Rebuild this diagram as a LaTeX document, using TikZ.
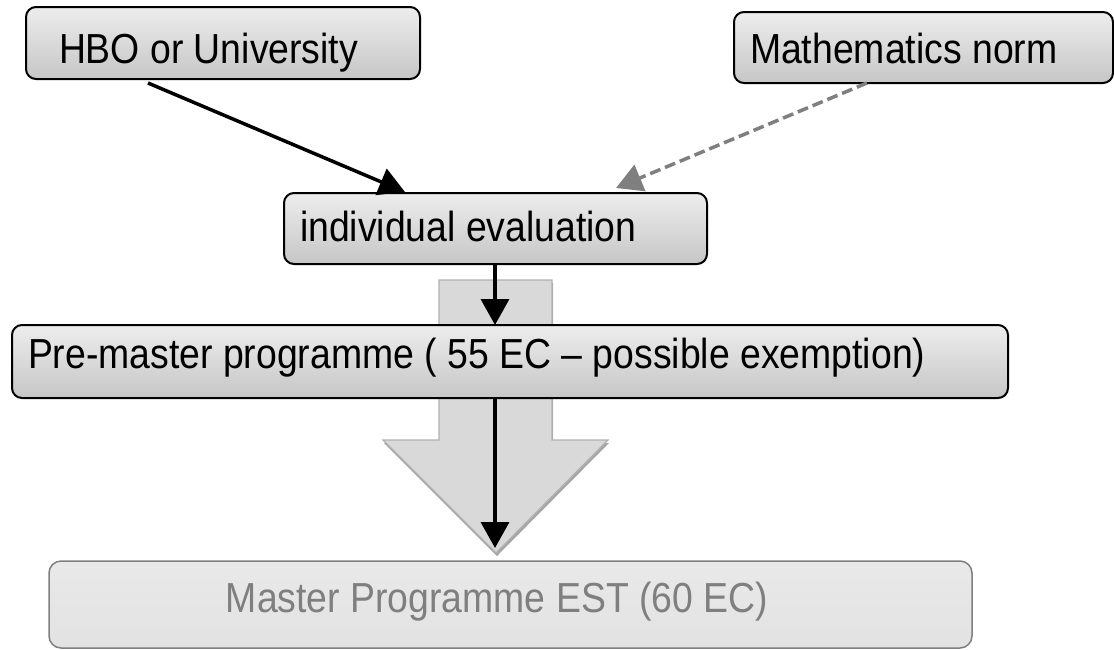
\documentclass[tikz,border=0pt]{standalone}
\usepackage{fontspec}
\setmainfont{Liberation Sans}[FakeStretch=0.89, WordSpace=1.0]
\usetikzlibrary{arrows.meta,calc}
\definecolor{boxtop}{HTML}{EDEDED}
\definecolor{boxbot}{HTML}{C6C6C6}
\definecolor{mtop}{HTML}{E9E9E9}
\definecolor{mmid}{HTML}{CBCBCB}
\definecolor{mbot}{HTML}{E2E2E2}
\definecolor{arrowfill}{HTML}{D9D9D9}
\definecolor{arrowline}{HTML}{B0B0B0}
\definecolor{arrowshadow}{HTML}{A6A6A6}
\definecolor{midgray}{HTML}{7F7F7F}
\tikzset{
  box/.style={draw=black, line width=2pt, rounded corners=10pt,
    top color=boxtop, bottom color=boxbot, inner ysep=0pt, outer sep=0pt,
    text depth=0pt, anchor=north west,
    font=\fontsize{42}{48}\selectfont},
  masterbox/.style={draw=midgray, line width=1.5pt, rounded corners=12pt,
    top color=mtop, middle color=mmid, bottom color=mbot,
    inner sep=0pt, outer sep=0pt, anchor=north west},
  mastertext/.style={text=midgray, inner sep=0pt, text height=30pt, text depth=0pt,
    font=\fontsize{42}{48}\selectfont},
  conn/.style={line width=3.5pt, -{Triangle[length=26pt,width=28pt]}},
  dashconn/.style={conn, draw=midgray, dash pattern=on 11pt off 5pt},
  blockarrow/.style={fill=arrowfill, draw=arrowline, line width=1.2pt, line join=miter},
  blockshadow/.style={fill=arrowshadow, draw=none}
}
\begin{document}
\begin{tikzpicture}[x=1pt,y=1pt]
\useasboundingbox (0,0) rectangle (1114,-649);
\clip (0,0) rectangle (1114,-649);
% big background arrow
\fill[blockshadow, shift={(1,-3)}] (439,-280) -- (552,-280) -- (552,-440) -- (608,-440)
  -- (496,-553) -- (383,-440) -- (439,-440) -- cycle;
\draw[blockarrow] (439,-280) -- (552,-280) -- (552,-440) -- (608,-440)
  -- (496,-553) -- (383,-440) -- (439,-440) -- cycle;
% boxes
\node[box, minimum height=72pt, inner xsep=33pt, text height=40pt]
  (hbo) at (26,-7) {\makebox[328pt][l]{HBO or University}};
\node[box, minimum height=71pt, inner xsep=16pt, text height=31pt]
  (math) at (734,-12) {\makebox[347pt][l]{Mathematics norm}};
\node[box, minimum height=71pt, inner xsep=16pt, text height=26.8pt]
  (eval) at (284,-193) {\makebox[391pt][l]{individual evaluation}};
\node[box, minimum height=73pt, inner xsep=16pt, text height=14.4pt]
  (pre) at (12,-325) {\makebox[964pt][l]{Pre-master programme ( 55 EC – possible exemption)}};
\node[masterbox, minimum width=923pt, minimum height=87pt] (master) at (49,-561) {};
\node[mastertext] (mtext) at (497,-597) {Master Programme EST (60 EC)};
% connectors
\draw[conn] ($(hbo.south west)+(122,-4)$) -- ($(eval.north west)+(121,1)$);
\draw[dashconn] ($(math.south west)+(133,0)$) -- ($(eval.north west)+(332,5)$);
\draw[conn] ($(eval.south west)+(211,0)$) -- ($(pre.north west)+(483,0)$);
\draw[conn] ($(pre.south west)+(483,0)$) -- ($(master.north west)+(446,13)$);
\end{tikzpicture}
\end{document}
